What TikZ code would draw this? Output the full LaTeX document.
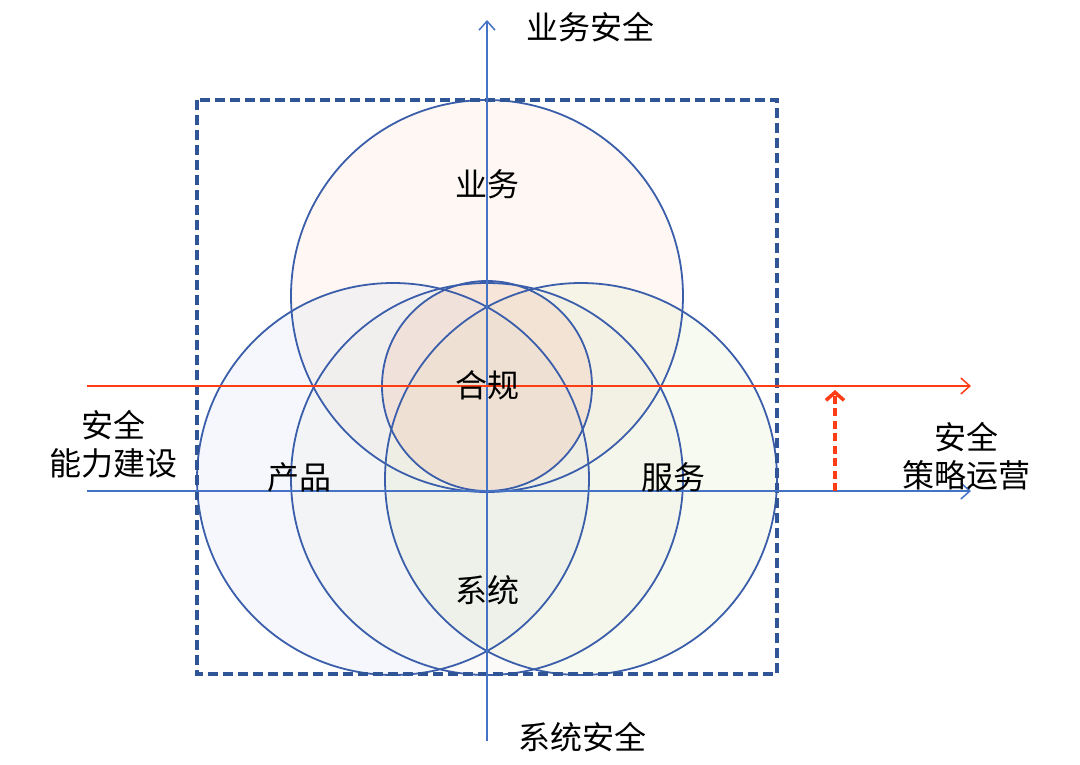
\documentclass[tikz,border=0pt]{standalone}
\usepackage{fontspec}
\setmainfont{Liberation Serif}
\newfontfamily\cjk{Noto Sans CJK SC}
\usetikzlibrary{arrows.meta}
\definecolor{axisblue}{HTML}{4472C4}
\definecolor{circblue}{HTML}{3B5EAB}
\definecolor{rectblue}{HTML}{2F5597}
\definecolor{redline}{HTML}{FF3D14}
\definecolor{fillbiz}{HTML}{FBE5D6}
\definecolor{fillprod}{HTML}{DAE3F3}
\definecolor{fillserv}{HTML}{E6EDCC}
\definecolor{fillsys}{HTML}{E9E7DA}
\definecolor{fillcomp}{HTML}{F2C4B0}
\tikzset{
  lbl/.style={inner sep=0pt, font=\cjk\fontsize{32}{38}\selectfont, align=center, text=black},
  ring/.style={draw=circblue, line width=1.8pt},
  axisline/.style={draw=axisblue, line width=1.5pt, -{Straight Barb[length=9pt,width=16pt,line width=1.5pt]}},
  redaxis/.style={draw=redline, line width=1.5pt, -{Straight Barb[length=9pt,width=16pt,line width=1.5pt]}},
  shiftarrow/.style={draw=redline, line width=3.5pt, dash pattern=on 8pt off 4.5pt, -{Straight Barb[length=8pt,width=18pt,line width=3.5pt]}},
  framebox/.style={draw=rectblue, line width=4pt, dash pattern=on 10pt off 5pt}
}
\begin{document}
\begin{tikzpicture}[x=1pt,y=-1pt]
\useasboundingbox (0,0) rectangle (1080,764);
% fills
\fill[fillbiz, fill opacity=0.3] (487,296) circle[radius=196pt];
\fill[fillprod, fill opacity=0.28] (393,479) circle[radius=196pt];
\fill[fillserv, fill opacity=0.3] (581,479) circle[radius=196pt];
\fill[fillsys, fill opacity=0.2] (487,479) circle[radius=196pt];
\fill[fillcomp, fill opacity=0.3] (487,386) circle[radius=105pt];
% outlines
\draw[ring] (487,296) circle[radius=196pt];
\draw[ring] (393,479) circle[radius=196pt];
\draw[ring] (581,479) circle[radius=196pt];
\draw[ring] (487,479) circle[radius=196pt];
\draw[ring] (487,386) circle[radius=105pt];
% frame
\draw[framebox] (197,100) rectangle (777,674);
% axes
\coordinate (vbot) at (487,741);
\coordinate (vtop) at (487,20);
\coordinate (rstart) at (87,386);
\coordinate (rend) at (971,386);
\coordinate (bstart) at (87,491);
\coordinate (bend) at (971,491);
\coordinate (up0) at (835,491);
\coordinate (up1) at (835,390);
\draw[axisline] (vbot) -- (vtop);
\draw[redaxis] (rstart) -- (rend);
\draw[axisline] (bstart) -- (bend);
\draw[shiftarrow] (up0) -- (up1);
% labels
\node[lbl] (bizsec) at (590,27) {业务安全};
\node[lbl] (biz) at (487,184) {业务};
\node[lbl] (comp) at (487,385) {合规};
\node[lbl] (prod) at (299,477) {产品};
\node[lbl] (serv) at (673,477) {服务};
\node[lbl] (sys) at (487,590) {系统};
\node[lbl] (syssec) at (582,737) {系统安全};
\node[lbl] (build) at (113,444) {安全\\能力建设};
\node[lbl] (ops) at (966,456) {安全\\策略运营};
\end{tikzpicture}
\end{document}
